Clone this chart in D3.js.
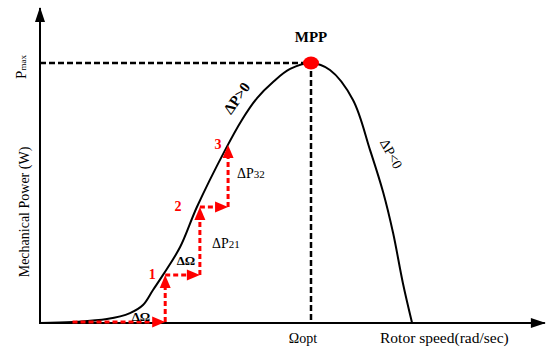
<!DOCTYPE html>
<html>
<head>
  <meta charset="utf-8">
  <title>MPPT P-Ω curve</title>
  <script src="https://d3js.org/d3.v7.min.js"></script>
  <style>
    body { margin: 0; background: #fff; }
    text { font-family: "Liberation Serif", "Times New Roman", serif; }
  </style>
</head>
<body>
  <svg id="chart"></svg>

  <script>
    // rotor speed (normalised to omega_opt) and mechanical power (normalised to Pmax)
    var curveOmega = [0, 0.122, 0.247, 0.332, 0.380, 0.417, 0.454, 0.517, 0.579, 0.683, 0.745, 0.801, 0.860, 0.923, 1.0,
                      1.070, 1.155, 1.218, 1.266, 1.303, 1.339, 1.373];
    var curvePower = [0, 0.004, 0.015, 0.038, 0.069, 0.127, 0.185, 0.292, 0.446, 0.665, 0.781, 0.865, 0.927, 0.977, 1.0,
                      0.973, 0.858, 0.665, 0.504, 0.346, 0.154, 0];

    // perturb & observe steps
    var stepOmega = [0.12, 0.462, 0.590, 0.694];
    var stepPower = [0, 0.185, 0.446, 0.685];
    var stepLabels = ["1", "2", "3"];

    var omegaOpt = 1.0;
    var pMax = 1.0;
    var omegaMax = 1.863;
    var powerMax = 1.212;

    var width = 550;
    var height = 355;
    var svg = d3.select("#chart")
                .attr("width", width)
                .attr("height", height);

    var x = d3.scaleLinear().domain([0, omegaOpt]).range([40, 311]);
    var y = d3.scaleLinear().domain([0, pMax]).range([323, 63]);

    var red = "#ff0000";

    // dashed guides to the maximum power point
    svg.append("path")
       .attr("d", "M" + x(0) + "," + y(pMax) + "H" + x(omegaOpt) + "V" + y(0))
       .attr("fill", "none")
       .attr("stroke", "#000")
       .attr("stroke-width", 2.5)
       .attr("stroke-dasharray", "6,3");

    // axes with arrow heads
    svg.append("path")
       .attr("d", "M" + x(0) + "," + y(powerMax) + "V" + y(0) + "H" + x(omegaMax))
       .attr("fill", "none")
       .attr("stroke", "#000")
       .attr("stroke-width", 2);
    svg.append("path")
       .attr("d", "M" + x(0) + "," + (y(powerMax) - 1) + "l-5,15h10z")
       .attr("fill", "#000");
    svg.append("path")
       .attr("d", "M" + (x(omegaMax) + 1) + "," + y(0) + "l-15,-5v10z")
       .attr("fill", "#000");

    // power curve
    var pts = curveOmega.map(function(w, i) { return [w, curvePower[i]]; });
    var line = d3.line()
                 .x(function(d) { return x(d[0]); })
                 .y(function(d) { return y(d[1]); })
                 .curve(d3.curveCatmullRom.alpha(0.5));
    svg.append("path")
       .datum(pts)
       .attr("d", line)
       .attr("fill", "none")
       .attr("stroke", "#000")
       .attr("stroke-width", 2);

    // red step arrows
    var head = 13;
    function arrow(x1, y1, x2, y2) {
      var dx = x2 - x1, dy = y2 - y1;
      var len = Math.sqrt(dx * dx + dy * dy);
      var ux = dx / len, uy = dy / len;
      var bx = x2 - ux * head, by = y2 - uy * head;
      svg.append("line")
         .attr("x1", x1).attr("y1", y1)
         .attr("x2", bx).attr("y2", by)
         .attr("stroke", red)
         .attr("stroke-width", 3)
         .attr("stroke-dasharray", "5,3");
      svg.append("path")
         .attr("d", "M" + x2 + "," + y2 +
                    "L" + (bx - uy * 5.5) + "," + (by + ux * 5.5) +
                    "L" + (bx + uy * 5.5) + "," + (by - ux * 5.5) + "Z")
         .attr("fill", red);
    }
    for (var i = 0; i < stepOmega.length - 1; i++) {
      var yy = y(stepPower[i]) - (i === 0 ? 1 : 0);
      arrow(x(stepOmega[i]), yy, x(stepOmega[i + 1]), yy);
      arrow(x(stepOmega[i + 1]), yy, x(stepOmega[i + 1]), y(stepPower[i + 1]));
    }

    // MPP marker
    svg.append("ellipse")
       .attr("cx", x(omegaOpt))
       .attr("cy", y(pMax))
       .attr("rx", 8)
       .attr("ry", 6.5)
       .attr("fill", red);

    // step labels
    var stepLabelDx = [-13, -22, -10];
    stepLabels.forEach(function(t, i) {
      svg.append("text")
         .attr("x", x(stepOmega[i + 1]) + stepLabelDx[i])
         .attr("y", y(stepPower[i + 1]) + 4)
         .attr("text-anchor", "middle")
         .attr("font-size", 14)
         .attr("font-weight", "bold")
         .attr("fill", red)
         .text(t);
    });

    function label(tx, ty, t, opts) {
      opts = opts || {};
      var el = svg.append("text")
                  .attr("transform", "translate(" + tx + "," + ty + ")" + (opts.rotate ? " rotate(" + opts.rotate + ")" : ""))
                  .attr("text-anchor", opts.anchor || "middle")
                  .attr("font-size", opts.size || 14)
                  .attr("font-weight", opts.bold ? "bold" : "normal")
                  .attr("fill", "#000");
      return el.text(t);
    }

    label(141, 321, "ΔΩ", { bold: true, size: 13 });
    label(186, 265, "ΔΩ", { bold: true, size: 13 });

    var dp21 = label(212, 248, "ΔP", { anchor: "start" });
    dp21.append("tspan").attr("font-size", 11).text("21");
    var dp32 = label(237, 178, "ΔP", { anchor: "start" });
    dp32.append("tspan").attr("font-size", 11).text("32");

    label(x(omegaOpt), 42, "MPP", { bold: true, size: 15 });
    label(241, 101, "ΔP>0", { bold: true, size: 15, rotate: -55 });
    label(387, 156, "ΔP<0", { size: 14, rotate: 62 });

    label(x(omegaOpt) - 8, 343, "Ωopt", { size: 14 });
    label(380, 343, "Rotor speed(rad/sec)", { anchor: "start", size: 15.5 });

    label(29, 212, "Mechanical Power (W)", { size: 14, rotate: -90 });
    var pm = label(26, 67, "P", { size: 15, rotate: -90 });
    pm.append("tspan").attr("font-size", 9).text("max");
  </script>
</body>
</html>
